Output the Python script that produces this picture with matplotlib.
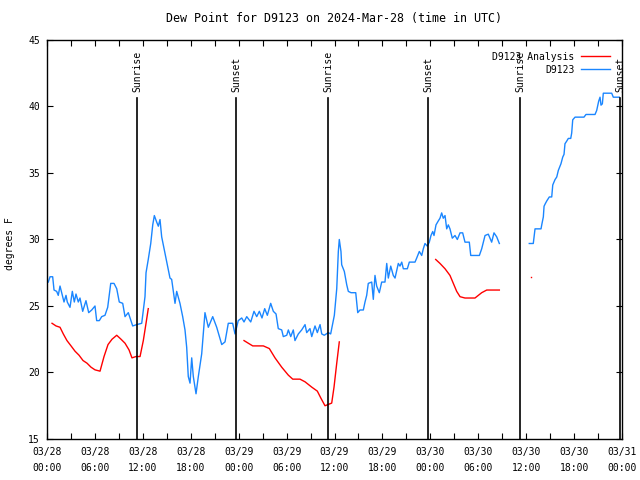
import numpy as np
import matplotlib
matplotlib.use('Agg')
import matplotlib.pyplot as plt
from matplotlib.ticker import MultipleLocator, FuncFormatter

# hours since 2024-03-28 00:00 UTC
obs_hours = [
    0.16, 0.38, 0.71, 0.88, 1.21, 1.41, 1.63, 1.84, 2.13, 2.38, 2.54, 2.88,
    3.17, 3.42, 3.63, 3.92, 4.13, 4.47, 4.88, 5.22, 5.60, 6.01, 6.22, 6.55,
    6.85, 7.26, 7.60, 7.98, 8.39, 8.73, 9.05, 9.48, 9.77, 10.18, 10.73, 11.23,
    11.86, 12.27, 12.40, 12.68, 12.99, 13.24, 13.44, 13.74, 13.94, 14.15, 14.36,
    14.56, 14.90, 15.19, 15.40, 15.61, 15.82, 16.03, 16.24, 16.65, 16.99, 17.28,
    17.49, 17.69, 17.91, 18.12, 18.32, 18.66, 18.95, 19.37, 19.78, 20.20, 20.75,
    21.25, 21.88, 22.29, 22.70, 23.25, 23.54, 23.95, 24.38, 24.67, 25.01, 25.51,
    25.92, 26.26, 26.59, 26.92, 27.26, 27.59, 28.01, 28.34, 28.68, 28.96, 29.39,
    29.59, 30.02, 30.22, 30.52, 30.84, 31.05, 31.47, 31.89, 32.31, 32.52, 32.93,
    33.15, 33.56, 33.85, 34.19, 34.40, 34.72, 35.22, 35.52, 35.98, 36.28, 36.48,
    36.60, 36.81, 36.90, 37.23, 37.53, 37.73, 38.07, 38.66, 38.91, 39.19, 39.61,
    39.82, 40.03, 40.23, 40.66, 40.86, 41.07, 41.28, 41.61, 41.91, 42.32, 42.54,
    42.74, 43.04, 43.36, 43.58, 43.99, 44.20, 44.42, 44.62, 45.12, 45.37, 46.08,
    46.29, 46.62, 46.92, 47.12, 47.33, 47.62, 47.87, 48.08, 48.30, 48.46, 48.71,
    49.00, 49.21, 49.42, 49.62, 49.84, 50.05, 50.25, 50.46, 50.75, 51.09, 51.38,
    51.72, 52.05, 52.34, 52.88, 53.06, 54.14, 54.43, 54.85, 55.26, 55.68, 55.97,
    56.31, 56.64, 58.50, 60.39, 60.89, 61.11, 61.86, 61.95, 62.15, 62.24, 62.40,
    62.58, 62.90, 63.20, 63.33, 63.61, 63.83, 64.03, 64.36, 64.58, 64.74, 64.86,
    65.08, 65.28, 65.58, 65.70, 65.83, 66.12, 67.24, 67.49, 68.62, 68.83, 69.08,
    69.25, 69.37, 69.54, 69.66, 70.71, 70.91, 71.66,
]
obs_dewpt = [
    26.8, 27.2, 27.2, 26.2, 26.1, 25.8, 26.5, 26.0, 25.3, 25.8, 25.3, 24.9,
    26.1, 25.3, 25.9, 25.3, 25.6, 24.6, 25.4, 24.5, 24.7, 25.0, 23.9, 23.9,
    24.2, 24.3, 24.9, 26.7, 26.7, 26.3, 25.3, 25.2, 24.2, 24.5, 23.5, 23.6,
    23.7, 25.7, 27.5, 28.5, 29.7, 31.1, 31.8, 31.3, 31.0, 31.5, 30.2,
    29.6, 28.6, 27.7, 27.1, 27.0, 26.1, 25.2, 26.1, 25.2, 24.2, 23.2,
    21.9, 19.7, 19.2, 21.1, 19.7, 18.4, 19.7, 21.4, 24.5, 23.4, 24.2,
    23.4, 22.1, 22.3, 23.7, 23.7, 22.9, 23.9, 24.1, 23.8, 24.2, 23.8,
    24.6, 24.2, 24.6, 24.1, 24.8, 24.3, 25.2, 24.6, 24.4, 23.3, 23.2,
    22.7, 22.8, 23.2, 22.7, 23.2, 22.4, 22.9, 23.2, 23.6, 23.0, 23.3,
    22.7, 23.5, 23.0, 23.6, 22.9, 22.8, 23.0, 22.9, 24.3, 26.3, 29.1,
    30.0, 29.1, 28.1, 27.6, 26.6, 26.1, 26.0, 26.0, 24.5, 24.7, 24.7,
    25.3, 25.8, 26.7, 26.8, 25.5, 27.3, 26.5, 26.0, 26.8, 26.8, 28.2,
    27.1, 28.0, 27.3, 27.1, 28.2, 28.0, 28.3, 27.8, 27.8, 28.3, 28.3,
    28.6, 29.1, 28.8, 29.3, 29.7, 29.5, 29.8, 30.3, 30.6, 30.3, 31.1,
    31.4, 31.6, 32.0, 31.6, 31.8, 30.8, 31.1, 30.8, 30.1, 30.3, 30.0,
    30.5, 30.5, 29.8, 29.8, 28.8, 28.8, 29.3, 30.3, 30.4, 29.8, 30.5,
    30.2, 29.7, np.nan, 29.7, 29.7, 30.8, 30.8, 31.1, 31.7, 32.5, 32.7,
    32.9, 33.2, 33.2, 34.1, 34.5, 34.7, 35.2, 35.7, 36.2, 36.4, 37.2,
    37.4, 37.6, 37.6, 38.0, 39.0, 39.2, 39.2, 39.4, 39.4, 39.7, 40.4,
    40.7, 40.1, 40.2, 41.0, 41.0, 40.7, 40.7,
]

ana_hours = [
    0.63, 1.13, 1.63, 2.04, 2.50, 3.01, 3.51, 4.01, 4.51, 5.01, 5.51, 6.01,
    6.64, 7.14, 7.64, 8.14, 8.73, 9.27, 9.77, 10.27, 10.64, 11.14, 11.65,
    12.06, 12.40, 12.68, 18.0,
    24.67, 25.21, 25.76, 27.09, 27.84, 28.55, 29.39, 30.22, 30.77, 31.68,
    32.31, 33.15, 33.85, 34.27, 34.81, 35.65, 35.94, 36.28, 36.60, 42.0,
    48.67, 49.21, 49.84, 50.46, 50.88, 51.30, 51.72, 52.34, 53.59, 54.01,
    54.43, 55.06, 56.64, 58.5,
]
ana_dewpt = [
    23.7, 23.5, 23.4, 22.9, 22.4, 22.0, 21.6, 21.3, 20.9, 20.7, 20.4, 20.2,
    20.1, 21.2, 22.1, 22.5, 22.8, 22.5, 22.2, 21.7, 21.1, 21.2, 21.2,
    22.4, 23.7, 24.8, np.nan,
    22.4, 22.2, 22.0, 22.0, 21.8, 21.1, 20.4, 19.8, 19.5, 19.5,
    19.3, 18.9, 18.6, 18.1, 17.5, 17.7, 18.9, 20.7, 22.3, np.nan,
    28.5, 28.2, 27.8, 27.3, 26.7, 26.1, 25.7, 25.6, 25.6, 25.8,
    26.0, 26.2, 26.2, np.nan,
]
# lone analysis value with no neighbours
ana_single_hours = [60.61]
ana_single_dewpt = [27.2]

sun_hours = [11.27, 23.72, 35.22, 47.74, 59.22, 71.76]
sun_labels = ['Sunrise', 'Sunset', 'Sunrise', 'Sunset', 'Sunrise', 'Sunset']

day_labels = ['03/28', '03/29', '03/30', '03/31']

plt.rcParams['font.family'] = 'DejaVu Sans Mono'
plt.rcParams['font.size'] = 7

fig = plt.figure(figsize=(6.4, 4.8), dpi=100)
ax = fig.add_axes([47 / 640, 1 - 439 / 480, 575 / 640, 399 / 480])

red = '#ff0000'
blue = '#1a86ff'

ax.plot(ana_hours, ana_dewpt, color=red, lw=1.0, label='D9123 Analysis')
ax.plot(ana_single_hours, ana_single_dewpt, color=red, marker='s', ms=1.0,
        mew=0, ls='none')
ax.plot(obs_hours, obs_dewpt, color=blue, lw=1.0, label='D9123')

for h, lab in zip(sun_hours, sun_labels):
    ax.plot([h, h], [0, 0.855], color='black', lw=1.2,
            transform=ax.get_xaxis_transform(), clip_on=False)
    ax.text(h, 0.869, lab, rotation=90, ha='center', va='bottom',
            transform=ax.get_xaxis_transform())

ax.set_xlim(0, 72)
ax.set_ylim(15, 45)
ax.xaxis.set_major_locator(MultipleLocator(6))
ax.xaxis.set_minor_locator(MultipleLocator(3))
ax.yaxis.set_major_locator(MultipleLocator(5))


def fmt_time(h, pos):
    day = int(h // 24)
    hh = int(round(h % 24))
    return '%s\n%02d:00' % (day_labels[day], hh)


ax.xaxis.set_major_formatter(FuncFormatter(fmt_time))
ax.tick_params(which='both', direction='in', top=True, right=True,
               length=4, width=0.8)
ax.tick_params(axis='x', pad=6)
ax.tick_params(axis='y', pad=5)
for lab in ax.get_xticklabels():
    lab.set_linespacing(1.65)
for sp in ax.spines.values():
    sp.set_linewidth(1.0)

ax.set_title('Dew Point for D9123 on 2024-Mar-28 (time in UTC)', pad=13)
fig.text(10 / 640, 1 - 244 / 480, 'degrees F', rotation=90,
         ha='center', va='center')

leg = ax.legend(loc='upper right', frameon=False, markerfirst=False,
                handlelength=3.0, handletextpad=0.7, borderaxespad=0.9,
                labelspacing=0.3, borderpad=0.3)

fig.savefig('out.png', dpi=100)
